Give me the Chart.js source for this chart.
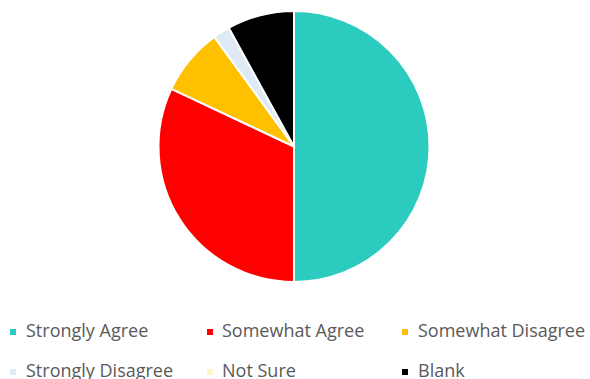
<!DOCTYPE html>
<html>
<head>
<meta charset="utf-8">
<script src="https://cdn.jsdelivr.net/npm/chart.js@4"></script>
<style>
  body { margin: 0; background: #fff; width: 590px; height: 379px; overflow: hidden; position: relative; }
  #wrap { position: absolute; left: 0; top: 0; width: 590px; height: 294px; }
  .box { position: absolute; width: 6px; height: 6px; }
  .txt { position: absolute; font-family: "Open Sans", sans-serif; font-size: 18px; color: #595959; white-space: nowrap; line-height: 20px; }
</style>
</head>
<body>
<div id="wrap"><canvas id="pie" width="590" height="294"></canvas></div>
<div id="legend"></div>
<script>
const labels = ['Strongly Agree', 'Somewhat Agree', 'Somewhat Disagree', 'Strongly Disagree', 'Not Sure', 'Blank'];
const values = [25, 16, 4, 1, 0, 4];
const colors = ['#2CCBBF', '#FF0000', '#FFC000', '#DEEAF6', '#FFF2CC', '#000000'];

// legend grid (3 columns, 2 rows)
const boxX = [10, 207, 402];
const textX = [26, 222, 418];
const rowY = [320, 360];
const legend = document.getElementById('legend');
labels.forEach(function (l, i) {
  const c = i % 3, r = Math.floor(i / 3);
  const b = document.createElement('div');
  b.className = 'box';
  b.style.left = boxX[c] + 'px';
  b.style.top = (rowY[r] + 9) + 'px';
  b.style.background = colors[i];
  legend.appendChild(b);
  const t = document.createElement('div');
  t.className = 'txt';
  t.style.left = textX[c] + 'px';
  t.style.top = rowY[r] + 'px';
  t.textContent = l;
  legend.appendChild(t);
});

new Chart(document.getElementById('pie'), {
  type: 'pie',
  data: {
    labels: labels,
    datasets: [{
      data: values,
      backgroundColor: colors,
      borderColor: '#ffffff',
      borderWidth: 2
    }]
  },
  options: {
    responsive: false,
    animation: false,
    layout: { padding: { top: 10, bottom: 11, left: 0, right: 2 } },
    plugins: { legend: { display: false }, tooltip: { enabled: false } }
  }
});
</script>
</body>
</html>
